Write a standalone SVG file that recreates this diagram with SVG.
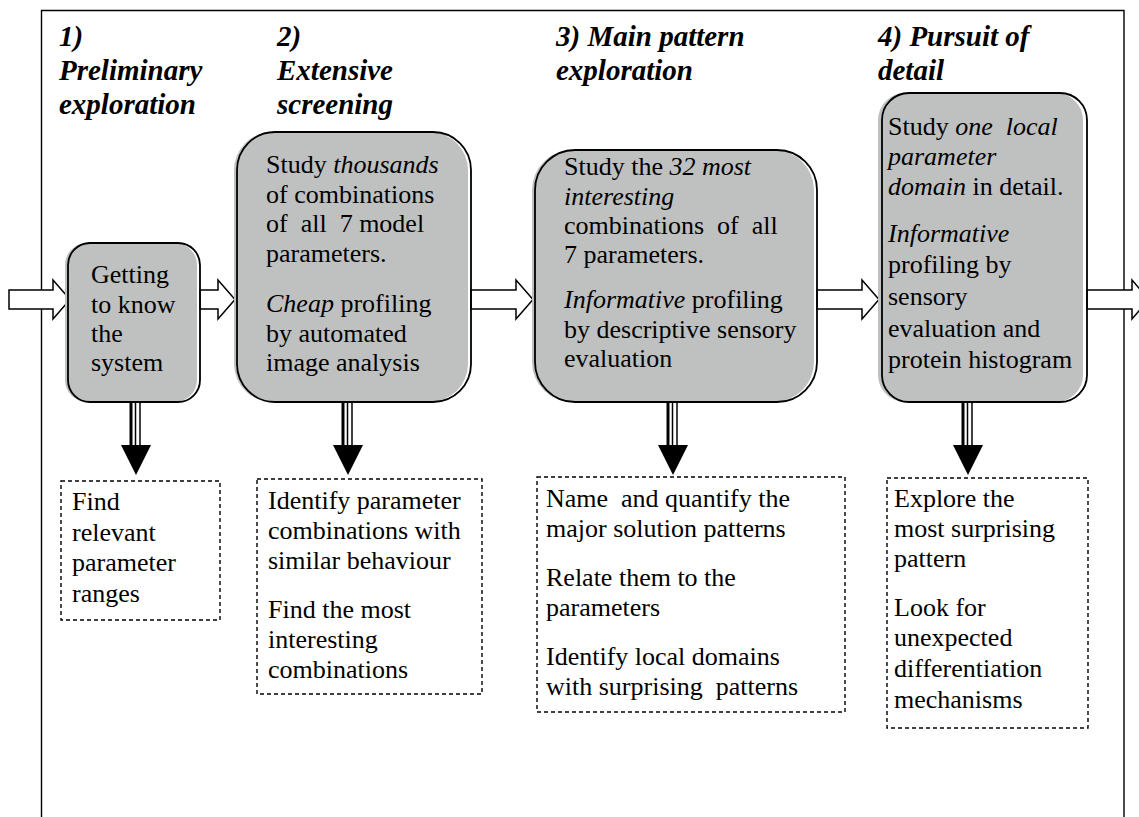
<svg xmlns="http://www.w3.org/2000/svg" xmlns:xlink="http://www.w3.org/1999/xlink" width="1139" height="817" viewBox="0 0 1139 817">
<style>
.fill{fill:#bfc1c0}
.line{fill:none;stroke:#000;stroke-width:1.8}
.dash{fill:none;stroke:#000;stroke-width:1.4;stroke-dasharray:4 3}
.harrow{fill:#fff;stroke:#000;stroke-width:1.5;stroke-linejoin:miter}
.frame{fill:none;stroke:#000;stroke-width:1.4}
.t{font-family:"Liberation Serif","Times New Roman",serif;font-size:26px;fill:#000;white-space:pre}
.h{font-family:"Liberation Serif","Times New Roman",serif;font-size:29px;font-weight:bold;font-style:italic;fill:#000;white-space:pre}
.i{font-style:italic}
</style>
<defs>
<g id="down">
<line x1="-5" y1="402" x2="-5" y2="447" stroke="#000" stroke-width="3"/>
<line x1="-0.5" y1="402" x2="-0.5" y2="447" stroke="#000" stroke-width="1.5"/>
<line x1="4" y1="402" x2="4" y2="447" stroke="#000" stroke-width="1.5"/>
<polygon points="-15,445 15,445 0,475" fill="#000"/>
</g>
</defs>
<rect width="1139" height="817" fill="#fff"/>
<g id="frame">
<polyline class="frame" points="41.5,817 41.5,10.5 1124,10.5 1124,817"/>
</g>
<g id="headers">
<text class="h" x="59" y="46">1)</text>
<text class="h" x="59" y="80">Preliminary</text>
<text class="h" x="59" y="114">exploration</text>
<text class="h" x="277" y="46">2)</text>
<text class="h" x="277" y="80">Extensive</text>
<text class="h" x="277" y="114">screening</text>
<text class="h" x="556" y="46">3) Main pattern</text>
<text class="h" x="556" y="80">exploration</text>
<text class="h" x="878" y="46">4) Pursuit of</text>
<text class="h" x="878" y="80">detail</text>
</g>
<g id="connectors">
<polygon class="harrow" points="9,290 53,290 53,280 70,299.5 53,319 53,309 9,309"/>
<polygon class="harrow" points="200,290 218,290 218,280 235,299.5 218,319 218,309 200,309"/>
<polygon class="harrow" points="471,290 516,290 516,280 533,299.5 516,319 516,309 471,309"/>
<polygon class="harrow" points="817,290 862,290 862,280 879,299.5 862,319 862,309 817,309"/>
<polygon class="harrow" points="1087,290 1132,290 1132,280 1149,299.5 1132,319 1132,309 1087,309"/>
<use xlink:href="#down" href="#down" x="136"/>
<use xlink:href="#down" href="#down" x="348"/>
<use xlink:href="#down" href="#down" x="673"/>
<use xlink:href="#down" href="#down" x="968"/>
</g>
<g id="box1">
<rect class="fill" x="65" y="243" width="132" height="159" rx="22"/>
<rect class="line" x="68" y="243" width="132" height="159" rx="22"/>
<text class="t" x="91" y="283">Getting</text>
<text class="t" x="91" y="313">to know</text>
<text class="t" x="91" y="342">the</text>
<text class="t" x="91" y="371">system</text>
</g>
<g id="box2">
<rect class="fill" x="234" y="132" width="234" height="270" rx="38"/>
<rect class="line" x="237" y="132" width="234" height="270" rx="38"/>
<text class="t" x="266" y="173">Study <tspan class="i">thousands</tspan></text>
<text class="t" x="266" y="203">of combinations</text>
<text class="t" x="266" y="232">of  all  7 model</text>
<text class="t" x="266" y="262">parameters.</text>
<text class="t" x="266" y="312"><tspan class="i">Cheap</tspan> profiling</text>
<text class="t" x="266" y="342">by automated</text>
<text class="t" x="266" y="371">image analysis</text>
</g>
<g id="box3">
<rect class="fill" x="532" y="150" width="282" height="252" rx="40"/>
<rect class="line" x="535" y="150" width="282" height="252" rx="40"/>
<text class="t" x="564" y="175">Study the <tspan class="i">32 most</tspan></text>
<text class="t i" x="564" y="205">interesting</text>
<text class="t" x="564" y="234">combinations  of  all</text>
<text class="t" x="564" y="263">7 parameters.</text>
<text class="t" x="564" y="308"><tspan class="i">Informative</tspan> profiling</text>
<text class="t" x="564" y="338">by descriptive sensory</text>
<text class="t" x="564" y="367">evaluation</text>
</g>
<g id="box4">
<rect class="fill" x="878" y="93" width="205" height="309" rx="27"/>
<rect class="line" x="882" y="93" width="205" height="309" rx="27"/>
<text class="t" x="888" y="135">Study <tspan class="i">one  local</tspan></text>
<text class="t i" x="888" y="165">parameter</text>
<text class="t" x="888" y="195"><tspan class="i">domain</tspan> in detail.</text>
<text class="t i" x="888" y="242">Informative</text>
<text class="t" x="888" y="273">profiling by</text>
<text class="t" x="888" y="305">sensory</text>
<text class="t" x="888" y="337">evaluation and</text>
<text class="t" x="888" y="368">protein histogram</text>
</g>
<g id="result1">
<rect class="dash" x="61" y="481" width="159" height="139"/>
<text class="t" x="72" y="510">Find</text>
<text class="t" x="72" y="540.5">relevant</text>
<text class="t" x="72" y="571">parameter</text>
<text class="t" x="72" y="601.5">ranges</text>
</g>
<g id="result2">
<rect class="dash" x="257" y="479" width="225" height="215"/>
<text class="t" x="268" y="509">Identify parameter</text>
<text class="t" x="268" y="539">combinations with</text>
<text class="t" x="268" y="569">similar behaviour</text>
<text class="t" x="268" y="618">Find the most</text>
<text class="t" x="268" y="648">interesting</text>
<text class="t" x="268" y="678">combinations</text>
</g>
<g id="result3">
<rect class="dash" x="537" y="477" width="308" height="235"/>
<text class="t" x="546" y="507">Name  and quantify the</text>
<text class="t" x="546" y="537">major solution patterns</text>
<text class="t" x="546" y="586">Relate them to the</text>
<text class="t" x="546" y="616">parameters</text>
<text class="t" x="546" y="665">Identify local domains</text>
<text class="t" x="546" y="695">with surprising  patterns</text>
</g>
<g id="result4">
<rect class="dash" x="887" y="478" width="201" height="250"/>
<text class="t" x="894" y="507">Explore the</text>
<text class="t" x="894" y="537">most surprising</text>
<text class="t" x="894" y="567">pattern</text>
<text class="t" x="894" y="616">Look for</text>
<text class="t" x="894" y="646">unexpected</text>
<text class="t" x="894" y="677">differentiation</text>
<text class="t" x="894" y="708">mechanisms</text>
</g>
</svg>
